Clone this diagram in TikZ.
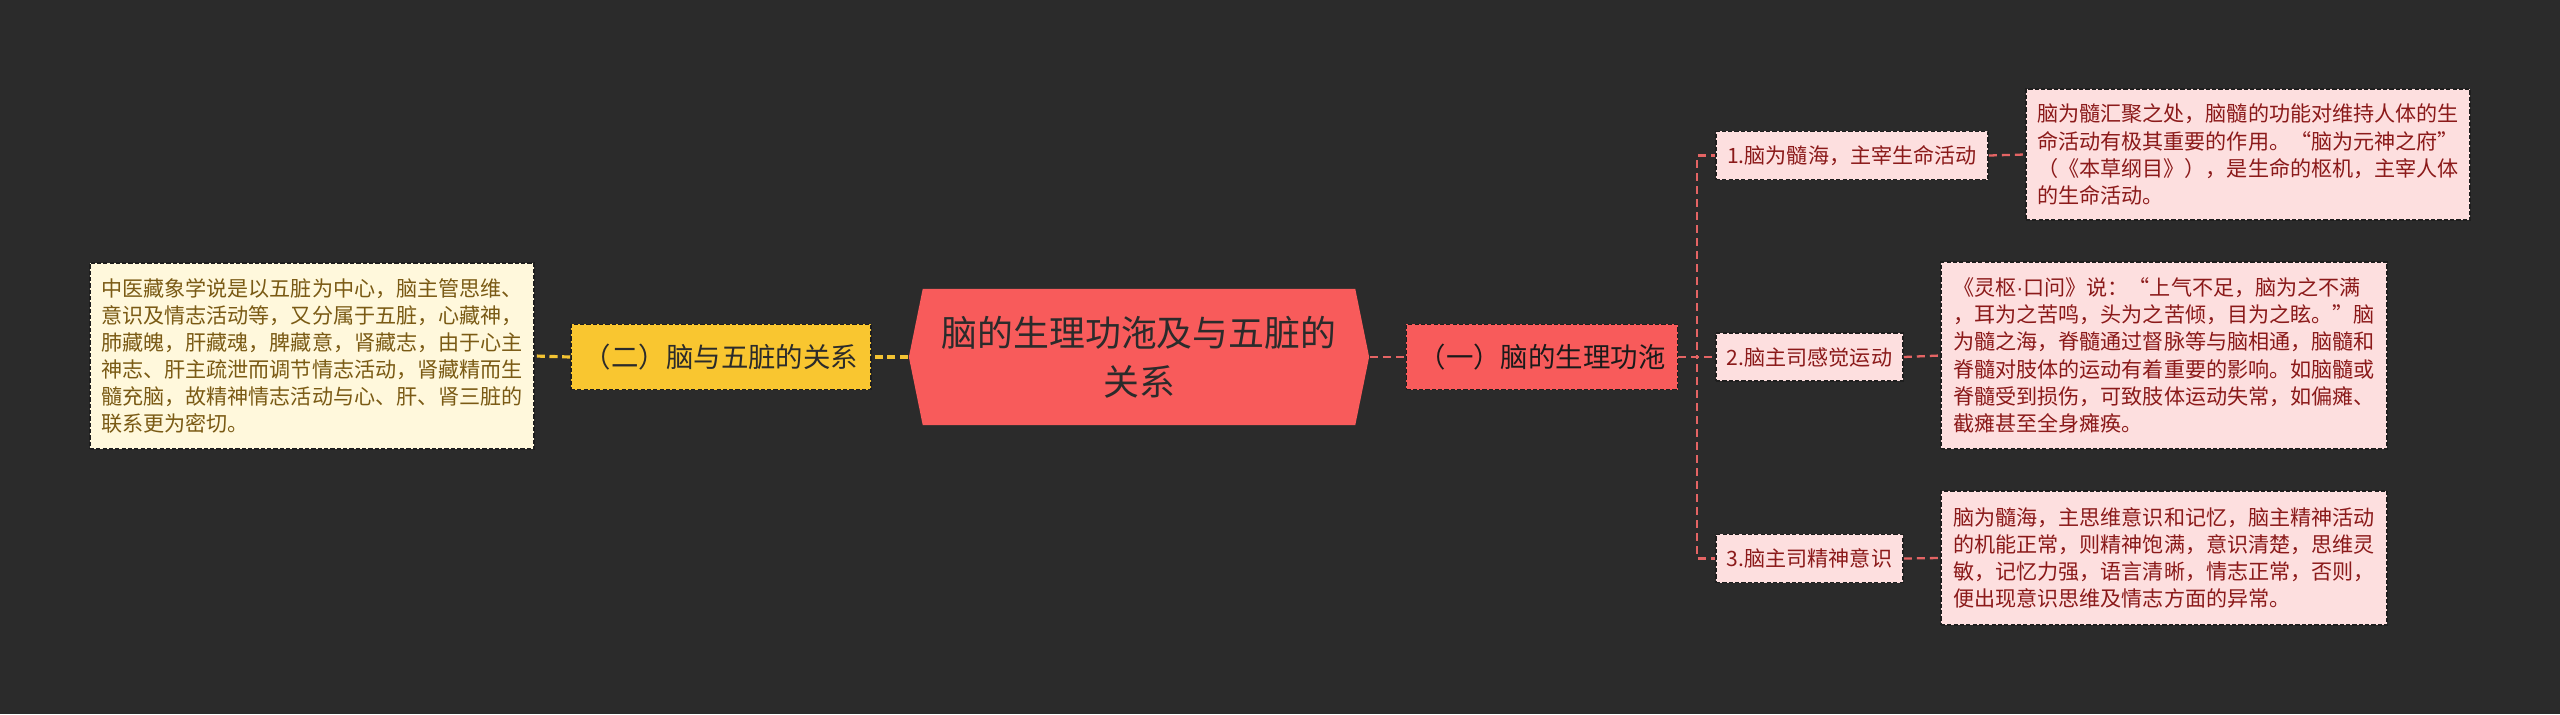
\documentclass[tikz,border=0pt]{standalone}
\usepackage{fontspec}
\setmainfont{Noto Sans CJK SC}
\newfontfamily\latinfont{Liberation Sans}
\usetikzlibrary{shapes.symbols}

\definecolor{bgdark}{HTML}{2B2B2B}
\definecolor{rootred}{HTML}{F85B5B}
\definecolor{branchyellow}{HTML}{F9C630}
\definecolor{creambox}{HTML}{FFF8DC}
\definecolor{creamtext}{HTML}{7A5A14}
\definecolor{pinkbox}{HTML}{FDDFDF}
\definecolor{pinktext}{HTML}{8B1A1A}
\definecolor{redline}{HTML}{E46464}
\definecolor{yellowline}{HTML}{F3C333}

\begin{document}
\begin{tikzpicture}[
    x=0.01cm, y=0.01cm,
    boxdash/.style = {
      draw = bgdark!70!black,
      line width = 0.4pt,
      dash pattern = on 1.2pt off 0.6pt
    },
    root/.style = {
      signal,
      signal to = west and east,
      signal pointer angle = 157,
      fill = rootred,
      text = bgdark,
      align = center,
      minimum width = 4.60cm,
      minimum height = 1.36cm,
      inner sep = 0pt,
      font = \fontsize{10.2pt}{13.9pt}\selectfont
    },
    branch/.style = {
      boxdash,
      rectangle,
      minimum height = 0.65cm,
      inner sep = 0pt,
      font = \fontsize{7.8pt}{9pt}\selectfont
    },
    topic/.style = {
      boxdash,
      rectangle,
      fill = pinkbox,
      text = pinktext,
      minimum height = 0.48cm,
      inner sep = 0pt,
      font = \fontsize{6pt}{7.7pt}\selectfont
    },
    detail/.style = {
      boxdash,
      rectangle,
      align = left,
      inner sep = 0pt,
      font = \fontsize{6pt}{7.7pt}\selectfont
    },
    yconn/.style = {
      draw = yellowline,
      line width = 0.9pt,
      dash pattern = on 2.3pt off 1.3pt
    },
    rconn/.style = {
      draw = redline,
      line width = 0.65pt,
      dash pattern = on 2.3pt off 1.4pt
    }
  ]
  % background
  \fill[bgdark] (0,0) rectangle (2560,714);

  % centre and the two branches
  \node[root] (root) at (1139,357) {脑的生理功沲及与五脏的\\关系};
  \node[branch, fill=branchyellow, text=bgdark, minimum width=3.00cm] (relation) at (721,357) {（二）脑与五脏的关系};
  \node[branch, fill=rootred, text=bgdark!60!black, minimum width=2.71cm] (function) at (1542,357) {（一）脑的生理功沲};

  % left detail
  \node[detail, fill=creambox, text=creamtext, minimum width=4.44cm, minimum height=1.86cm] (organs) at (312,358)
    {中医藏象学说是以五脏为中心，脑主管思维、\\
     意识及情志活动等，又分属于五脏，心藏神，\\
     肺藏魄，肝藏魂，脾藏意，肾藏志，由于心主\\
     神志、肝主疏泄而调节情志活动，肾藏精而生\\
     髓充脑，故精神情志活动与心、肝、肾三脏的\\
     联系更为密切。};

  % right topics
  \node[topic, minimum width=2.72cm] (sea) at (1852,558.5) {1.脑为髓海，主宰生命活动};
  \node[topic, minimum width=1.87cm] (sense) at (1809.5,357) {2.脑主司感觉运动};
  \node[topic, minimum width=1.87cm] (mind) at (1809.5,155.5) {3.脑主司精神意识};

  % right details
  \node[detail, fill=pinkbox, text=pinktext, minimum width=4.44cm, minimum height=1.31cm] (seatext) at (2248,559.5)
    {脑为髓汇聚之处，脑髓的功能对维持人体的生\\
     命活动有极其重要的作用。“脑为元神之府”\\
     （《本草纲目》），是生命的枢机，主宰人体\\
     的生命活动。};
  \node[detail, fill=pinkbox, text=pinktext, minimum width=4.46cm, minimum height=1.87cm] (sensetext) at (2164,358.5)
    {《灵枢{\latinfont ·}口问》说：“上气不足，脑为之不满\\
     ，耳为之苦鸣，头为之苦倾，目为之眩。”脑\\
     为髓之海，脊髓通过督脉等与脑相通，脑髓和\\
     脊髓对肢体的运动有着重要的影响。如脑髓或\\
     脊髓受到损伤，可致肢体运动失常，如偏瘫、\\
     截瘫甚至全身瘫痪。};
  \node[detail, fill=pinkbox, text=pinktext, minimum width=4.46cm, minimum height=1.34cm] (mindtext) at (2164,156)
    {脑为髓海，主思维意识和记忆，脑主精神活动\\
     的机能正常，则精神饱满，意识清楚，思维灵\\
     敏，记忆力强，语言清晰，情志正常，否则，\\
     便出现意识思维及情志方面的异常。};

  % connectors
  \draw[yconn] (root.west) -- (relation.east);
  \draw[yconn] (relation.west) -- (organs.east);

  \draw[rconn] (root.east) -- (function.west);
  \draw[rconn] (function.east) -- (sense.west);
  \draw[rconn] (function.east) -- ++(19,0) |- (sea.west);
  \draw[rconn] (function.east) -- ++(19,0) |- (mind.west);

  \draw[rconn] (sea.east) -- (seatext.west);
  \draw[rconn] (sense.east) -- (sensetext.west);
  \draw[rconn] (mind.east) -- (mindtext.west);
\end{tikzpicture}
\end{document}
